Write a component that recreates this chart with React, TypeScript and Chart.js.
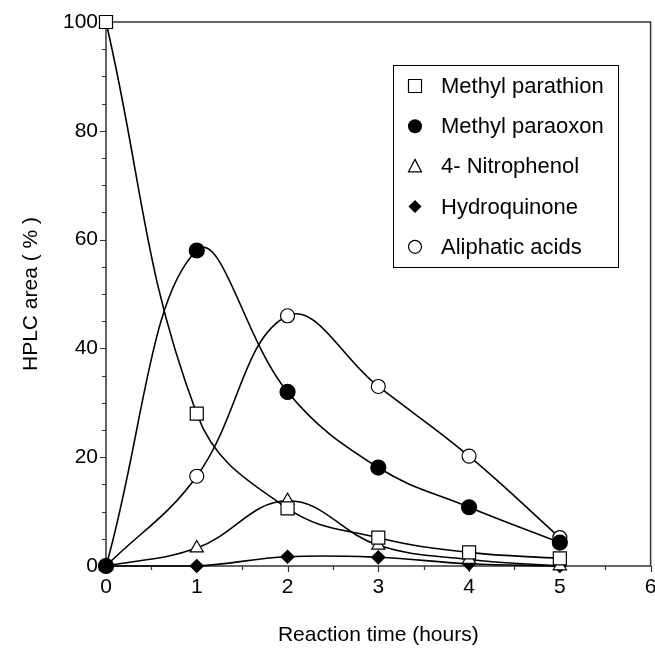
import React, { useEffect, useRef } from 'react';
import { Chart, registerables } from 'chart.js';

Chart.register(...registerables);

// ---- data ----
const reactionTime = [0, 1, 2, 3, 4, 5];
const methylParathion = [100, 28, 10.6, 5.2, 2.5, 1.4];
const methylParaoxon = [0, 58, 32, 18.1, 10.8, 4.3];
const nitrophenol = [0, 3.3, 12, 3.8, 1.2, 0];
const hydroquinone = [0, 0, 1.7, 1.6, 0.4, 0];
const aliphaticAcids = [0, 16.5, 46, 33, 20.2, 5.2];

const seriesLabels = ['Methyl parathion', 'Methyl paraoxon', '4- Nitrophenol', 'Hydroquinone', 'Aliphatic acids'];
const xTitle = 'Reaction time (hours)';
const yTitle = 'HPLC area ( % )';
const xMin = 0, xMax = 6, xMajorStep = 1, xMinorStep = 0.5;
const yMin = 0, yMax = 100, yMajorStep = 20, yMinorStep = 5;

const FONT = "'Liberation Sans', Arial, sans-serif";

type MarkerKind = 'square' | 'dot' | 'triangle' | 'diamond' | 'ring';
const markerKinds: MarkerKind[] = ['square', 'dot', 'triangle', 'diamond', 'ring'];

function drawMarker(ctx: CanvasRenderingContext2D, kind: MarkerKind, x: number, y: number) {
  ctx.save();
  ctx.lineWidth = 1.2;
  ctx.strokeStyle = '#000';
  ctx.beginPath();
  if (kind === 'square') {
    ctx.rect(x - 6.5, y - 6.5, 13, 13);
    ctx.fillStyle = '#fff';
    ctx.fill();
    ctx.stroke();
  } else if (kind === 'dot') {
    ctx.arc(x, y, 7, 0, Math.PI * 2);
    ctx.fillStyle = '#000';
    ctx.fill();
  } else if (kind === 'triangle') {
    ctx.moveTo(x, y - 7);
    ctx.lineTo(x + 6.5, y + 5.5);
    ctx.lineTo(x - 6.5, y + 5.5);
    ctx.closePath();
    ctx.fillStyle = '#fff';
    ctx.fill();
    ctx.stroke();
  } else if (kind === 'diamond') {
    ctx.moveTo(x, y - 6.5);
    ctx.lineTo(x + 6.5, y);
    ctx.lineTo(x, y + 6.5);
    ctx.lineTo(x - 6.5, y);
    ctx.closePath();
    ctx.fillStyle = '#000';
    ctx.fill();
  } else {
    ctx.arc(x, y, 6.5, 0, Math.PI * 2);
    ctx.fillStyle = '#fff';
    ctx.fill();
    ctx.stroke();
  }
  ctx.restore();
}

const framePlugin = {
  id: 'frameTicks',
  beforeDatasetsDraw(chart: any) {
    const { ctx, chartArea: a, scales } = chart;
    ctx.save();
    ctx.strokeStyle = '#333';
    ctx.lineWidth = 1.5;
    ctx.strokeRect(a.left, a.top, a.right - a.left, a.bottom - a.top);
    ctx.lineWidth = 1.2;
    ctx.beginPath();
    for (let v = yMin; v <= yMax + 1e-9; v += yMinorStep) {
      const y = Math.round(scales.y.getPixelForValue(v)) + 0.5;
      const len = Math.abs(v % yMajorStep) < 1e-9 ? 6 : 4;
      ctx.moveTo(a.left - len, y);
      ctx.lineTo(a.left, y);
    }
    for (let v = xMin; v <= xMax + 1e-9; v += xMinorStep) {
      const x = Math.round(scales.x.getPixelForValue(v)) + 0.5;
      const len = Math.abs(v % xMajorStep) < 1e-9 ? 6 : 4;
      ctx.moveTo(x, a.bottom);
      ctx.lineTo(x, a.bottom + len);
    }
    ctx.stroke();
    ctx.restore();
  },
};

const legendPlugin = {
  id: 'boxLegend',
  afterDraw(chart: any) {
    const { ctx } = chart;
    const boxL = 393.5, boxT = 65.5, boxW = 225, boxH = 202;
    ctx.save();
    ctx.strokeStyle = '#000';
    ctx.lineWidth = 1;
    ctx.strokeRect(boxL, boxT, boxW, boxH);
    ctx.font = `22px ${FONT}`;
    ctx.fillStyle = '#000';
    ctx.textBaseline = 'middle';
    ctx.textAlign = 'left';
    chart.data.datasets.forEach((ds: any, i: number) => {
      const y = 86 + i * 40.2;
      drawMarker(ctx, markerKinds[i], 415, y);
      ctx.fillText(ds.label, 441, y + 1);
    });
    ctx.restore();
  },
};

function makePoints(values: number[]) {
  return reactionTime.map((t, i) => ({ x: t, y: values[i] }));
}

export default function App() {
  const ref = useRef<HTMLCanvasElement | null>(null);

  useEffect(() => {
    if (!ref.current) return;
    const seriesValues = [methylParathion, methylParaoxon, nitrophenol, hydroquinone, aliphaticAcids];
    const styles = [
      { pointStyle: 'rect', radius: 9.2, bg: '#fff' },
      { pointStyle: 'circle', radius: 7.5, bg: '#000' },
      { pointStyle: 'triangle', radius: 7.6, bg: '#fff' },
      { pointStyle: 'rectRot', radius: 6.5, bg: '#000' },
      { pointStyle: 'circle', radius: 7, bg: '#fff' },
    ];
    const datasets = seriesLabels.map((label, i) => ({
      label,
      data: makePoints(seriesValues[i]),
      borderColor: '#000',
      borderWidth: 1.6,
      tension: 0.4,
      fill: false,
      clip: false as any,
      pointStyle: styles[i].pointStyle as any,
      pointRadius: styles[i].radius,
      pointBackgroundColor: styles[i].bg,
      pointBorderColor: '#000',
      pointBorderWidth: 1.2,
    }));

    const chart = new Chart(ref.current, {
      type: 'line',
      data: { datasets },
      options: {
        animation: false,
        responsive: false,
        devicePixelRatio: 1,
        layout: { padding: { top: 22, right: 0, left: 0, bottom: 0 } },
        plugins: { legend: { display: false }, tooltip: { enabled: false } },
        scales: {
          x: {
            type: 'linear',
            min: xMin,
            max: xMax,
            grid: { display: false, drawTicks: false },
            border: { display: false },
            ticks: { stepSize: xMajorStep, color: '#000', font: { size: 21, family: FONT }, padding: 9, maxRotation: 0 },
            title: { display: true, text: xTitle, color: '#000', font: { size: 21, family: FONT }, padding: { top: 0, bottom: 2 } },
            afterFit: (s: any) => { s.height = 84; s.paddingLeft = 0; s.paddingRight = 0; },
          },
          y: {
            type: 'linear',
            min: yMin,
            max: yMax,
            grid: { display: false, drawTicks: false },
            border: { display: false },
            ticks: { stepSize: yMajorStep, color: '#000', font: { size: 21, family: FONT }, padding: 8 },
            title: { display: true, text: yTitle, color: '#000', font: { size: 21, family: FONT }, padding: { top: 19, bottom: 0 } },
            afterFit: (s: any) => { s.width = 106; s.paddingTop = 0; s.paddingBottom = 0; },
          },
        },
      },
      plugins: [framePlugin, legendPlugin],
    });
    return () => chart.destroy();
  }, []);

  return (
    <div style={{ position: 'fixed', left: 0, top: 0, width: 655, height: 650, background: '#fff', overflow: 'hidden' }}>
      <canvas ref={ref} width={661} height={650} style={{ display: 'block' }} />
    </div>
  );
}
